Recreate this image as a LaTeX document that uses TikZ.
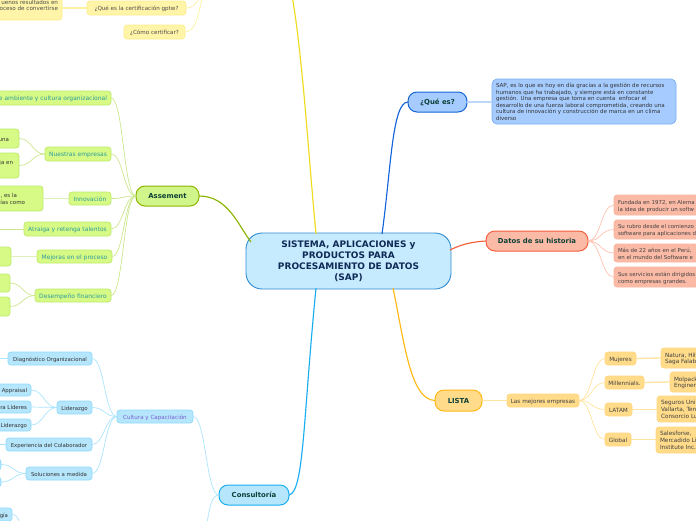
\documentclass[tikz,border=0pt]{standalone}
\usepackage{fontspec}
\setmainfont{DejaVu Sans}
\usetikzlibrary{calc}
\definecolor{grnF}{HTML}{D6FA85}\definecolor{grnB}{HTML}{BFE96B}\definecolor{grnL}{HTML}{CBE68C}\definecolor{grnT}{HTML}{2E9C9C}
\definecolor{yelF}{HTML}{FFF4A8}\definecolor{yelB}{HTML}{FBEE8C}\definecolor{yelL}{HTML}{FBF2A0}
\definecolor{orgF}{HTML}{FFDB8A}\definecolor{orgB}{HTML}{FFD77C}\definecolor{orgL}{HTML}{FFE39E}
\definecolor{redF}{HTML}{FBBAA5}\definecolor{redB}{HTML}{FBB49C}\definecolor{redL}{HTML}{FFC2AE}
\definecolor{cyaF}{HTML}{B5E6FC}\definecolor{cyaB}{HTML}{8FD9FA}\definecolor{cyaL}{HTML}{ACE4FD}
\definecolor{bluF}{HTML}{A6CCFF}\definecolor{bluB}{HTML}{78AEF2}\definecolor{bluL}{HTML}{BCD7FA}
\definecolor{drk}{HTML}{0E4038}
\definecolor{ctrF}{HTML}{C6EBFF}\definecolor{ctrB}{HTML}{2E8BCF}\definecolor{ctrT}{HTML}{0F2A55}
\definecolor{mGrn}{HTML}{8CB400}\definecolor{mBlu}{HTML}{1565D8}\definecolor{mRed}{HTML}{F5603C}
\definecolor{mOrg}{HTML}{FFB814}\definecolor{mCya}{HTML}{1AAEF0}\definecolor{mYel}{HTML}{F0DC1E}
\definecolor{asmF}{HTML}{D0F58A}\definecolor{purT}{HTML}{7A5FD0}
\tikzset{
 bxs/.style={draw,rounded corners=3pt,inner sep=0pt,outer sep=0pt,line width=.7pt,text=#1},
 grn/.style={bxs=grnT,fill=grnF,draw=grnB,font=\fontsize{6}{7}\selectfont},
 grnd/.style={bxs=black!80,fill=grnF,draw=grnB,font=\fontsize{5.5}{6.9}\selectfont},
 yel/.style={bxs=black!70,fill=yelF,draw=yelB,font=\fontsize{5.6}{6.6}\selectfont},
 org/.style={bxs=black!75,fill=orgF,draw=orgB,font=\fontsize{5.75}{6.7}\selectfont},
 red/.style={bxs=black!75,fill=redF,draw=redB,rounded corners=3pt,font=\fontsize{5.45}{6.9}\selectfont},
 cya/.style={bxs=black!80,fill=cyaF,draw=cyaB,font=\fontsize{5.4}{6.6}\selectfont},
 cyap/.style={cya,text=purT,font=\fontsize{5.6}{6.6}\selectfont},
 blu/.style={bxs=black!80,fill=bluF,draw=bluB,rounded corners=5pt,font=\fontsize{5.55}{6.5}\selectfont},
 mainb/.style={bxs=drk,line width=1pt,rounded corners=9pt,font=\bfseries\fontsize{6.9}{8}\selectfont},
 ctr/.style={bxs=ctrT,fill=ctrF,draw=ctrB,line width=.9pt,rounded corners=16pt,font=\bfseries\fontsize{9}{11}\selectfont},
 ln/.style={line width=.7pt,draw=#1},
 pl/.style={line width=1.3pt,draw=#1},
 mn/.style={line width=1.15pt,draw=#1},
}
\newcommand{\bx}[8]{%
 \pgfmathsetmacro\bxW{#5-(#3)}\pgfmathsetmacro\bxH{#6-(#4)}%
 \pgfmathsetmacro\bxX{(#3+#5)/2}\pgfmathsetmacro\bxY{(#4+#6)/2}%
 \node[#1,minimum width=\bxW pt,minimum height=\bxH pt] (#2) at (\bxX,\bxY)
  {\makebox[\dimexpr\bxW pt-8pt\relax][#7]{\raisebox{-1.2pt}[\height][\depth]{\begin{tabular}{@{}#7@{}}#8\end{tabular}}}};}
\newcommand{\cn}[3]{\draw[ln=#1] let \p1=(#2),\p2=(#3) in (#2) .. controls ({.5*\x1+.5*\x2},\y1) and ({.5*\x1+.5*\x2},\y2) .. (#3);}
\begin{document}
\begin{tikzpicture}[x=1pt,y=-1pt]
\useasboundingbox (0,0) rectangle (696,520);
\clip (0,0) rectangle (696,520);
% free ends
\coordinate (hubY) at (204,-10);
\coordinate (cY) at (316,234);
\coordinate (cQ) at (382,234);
\coordinate (cD) at (450,250);
\coordinate (cL) at (393,288);
\coordinate (cC) at (316,288);
\coordinate (cA) at (251,242);
\coordinate (topY) at (292,-5);
\coordinate (endC) at (207,523);
\coordinate (endG) at (20,523);
\coordinate (endD) at (-5,358.5);
\coordinate (endE) at (-5,444.5);
\coordinate (endA) at (-5,229);
% nodes
\bx{ctr}{center}{246}{233}{451}{289}{c}{SISTEMA, APLICACIONES y\\PRODUCTOS PARA\\PROCESAMIENTO DE DATOS\\(SAP)}
\bx{mainb,fill=bluF,draw=mBlu}{que}{408}{92}{467}{112}{c}{¿Qué es?}
\bx{blu}{queT}{492}{79}{676}{124}{l}{SAP, es lo que es hoy en día gracias a la gestión de recursos\\humanos que ha trabajado, y siempre está en constante\\gestión. Una empresa que toma en cuenta \ enfocar el\\desarrollo de una fuerza laboral comprometida, creando una\\cultura de innovación y construcción de marca en un clima\\diverso}
\bx{mainb,fill=redF,draw=mRed}{dat}{486}{231}{588}{251}{c}{Datos de su historia}
\bx{red}{h1}{614}{195}{720}{215}{l}{Fundada en 1972, en Alema\\la idea de producir un softw}
\bx{red}{h2}{614}{220}{720}{239}{l}{Su rubro desde el comienzo\\software para aplicaciones d}
\bx{red}{h3}{614}{244}{720}{262}{l}{Más de 22 años en el Perú, \\en el mundo del Software e}
\bx{red}{h4}{614}{267}{720}{287}{l}{Sus servicios están dirigidos\\como empresas grandes.}
\bx{mainb,fill=orgF,draw=mOrg}{lis}{435}{390}{482}{411}{c}{LISTA}
\bx{org}{mej}{507}{394}{579}{407}{c}{Las mejores empresas}
\bx{org}{muj}{605}{352}{636}{365}{c}{Mujeres}
\bx{org}{mil}{605}{376}{644}{389}{c}{Millennials.}
\bx{org}{lat}{605}{403}{632}{416}{c}{LATAM}
\bx{org}{glo}{605}{433}{631}{446}{c}{Global}
\bx{org}{r1}{661}{348}{740}{368}{l}{Natura, Hilt\\Saga Falabe}
\bx{org}{r2}{670}{372}{740}{392}{l}{Molpack\\Engineri}
\bx{org}{r3}{657}{396}{740}{422}{l}{Seguros Uni\\Vallarta, Ten\\Consorcio Lu}
\bx{org}{r4}{656}{427}{740}{453}{l}{Salesforse, \\Mercadido Li\\Institute Inc.}
\bx{mainb,fill=asmF,draw=mGrn}{asm}{136}{186}{199}{206}{c}{Assement}
\bx{grn}{g1}{-60}{91}{111}{105}{r}{e ambiente y cultura organizacional}
\bx{grn}{g2}{45}{147}{111}{161}{c}{Nuestras empresas}
\bx{grn}{g3}{69}{192}{111}{205}{c}{Innovación}
\bx{grn}{g4}{24}{222}{111}{236}{c}{Atraiga y retenga talentos}
\bx{grn}{g5}{37}{250}{112}{263}{c}{Mejoras en el proceso}
\bx{grn}{g6}{35}{289}{111}{302}{c}{Desempeño financiero}
\bx{grnd}{a1}{-40}{129}{19}{148}{r}{una\hspace*{6pt}\\ }
\bx{grnd}{a2}{-40}{153}{19}{178}{r}{ja en\hspace*{2pt}\\ \\ }
\bx{grnd}{a3}{-40}{186}{43}{211}{r}{, es la\hspace*{22pt}\\ías como\hspace*{14pt}\\ }
\bx{grnd}{a4}{-40}{247}{11}{266}{r}{ }
\bx{grnd}{a5}{-40}{274}{10}{292}{r}{ }
\bx{grnd}{a6}{-40}{297}{10}{316}{r}{ }
\bx{yel}{y0}{-60}{-10}{62}{20}{r}{uenos resultados en\\oceso de convertirse}
\bx{yel}{y1}{87}{1}{186}{15}{c}{¿Qué es la certificación gptw?}
\bx{yel}{y2}{124}{25}{185}{39}{c}{¿Cómo certificar?}
\bx{mainb,fill=cyaF,draw=mCya}{con}{219}{485}{289}{505}{c}{Consultoría}
\bx{cyap}{cul}{117}{410}{193}{423}{c}{Cultura y Capacitación}
\bx{cya}{dia}{8}{352}{92}{365}{c}{Diagnóstico Organizacional}
\bx{cya}{lid}{57}{401}{92}{414}{c}{Liderazgo}
\bx{cya}{exp}{6}{438}{92}{451}{c}{Experiencia del Colaborador}
\bx{cya}{sol}{26}{467}{92}{480}{c}{Soluciones a medida}
\bx{cya}{l1}{-40}{384}{31}{396}{r}{Appraisal}
\bx{cya}{l2}{-40}{401}{31}{413}{r}{ra Líderes}
\bx{cya}{l3}{-40}{419}{31}{431}{r}{Liderazgo}
\bx{cya}{s1}{-40}{459}{1}{470}{r}{ }
\bx{cya}{s2}{-40}{477}{1}{487}{r}{ }
\bx{cya}{gia}{-40}{508}{12}{521}{r}{gía}
% main connectors
\draw[mn=mGrn] (asm.east) .. controls (228,196) and (238,225) .. (cA);
\draw[mn=mBlu] (que.west) .. controls (392,102) and (391,170) .. (cQ);
\draw[mn=mRed] (dat.west) .. controls (470,242) and (460,245) .. (cD);
\draw[mn=mOrg] (lis.west) .. controls (410,400) and (404,340) .. (cL);
\draw[mn=mCya] (con.east) .. controls (304,492) and (303,420) .. (cC);
\draw[mn=mYel] (topY) .. controls (303,60) and (308,150) .. (cY);
% thin connectors
\foreach \c in {g1,g2,g3,g4,g5,g6}{\cn{grnL}{\c.east}{asm.west}}
\cn{grnL}{a1.east}{g2.west}\cn{grnL}{a2.east}{g2.west}
\cn{grnL}{a5.east}{g6.west}\cn{grnL}{a6.east}{g6.west}
\foreach \c in {h1,h2,h3,h4}{\cn{redL}{dat.east}{\c.west}}
\foreach \c in {muj,mil,lat,glo}{\cn{orgL}{mej.east}{\c.west}}
\foreach \c in {dia,lid,exp,sol}{\cn{cyaL}{\c.east}{cul.west}}
\foreach \c in {l1,l2,l3}{\cn{cyaL}{\c.east}{lid.west}}
\cn{cyaL}{s1.east}{sol.west}\cn{cyaL}{s2.east}{sol.west}
\cn{cyaL}{cul.east}{con.west}
\draw[ln=cyaL] (con.west) .. controls (212,495) and (210,505) .. (endC);
\draw[ln=cyaL] (gia.east) .. controls (16,514) and (18,518) .. (endG);
\draw[ln=yelL] (y1.east) .. controls (194,8) and (198,2) .. (hubY);
\draw[ln=yelL] (y2.east) .. controls (196,32) and (198,15) .. (hubY);
% straight pale connectors
\draw[pl=bluL] (que.east) -- (queT.west |- que.east);
\draw[pl=orgL] (lis.east) -- (mej.west);
\draw[pl=orgL] (muj.east) -- (r1.west);
\draw[pl=orgL] (mil.east) -- (r2.west);
\draw[pl=orgL] (lat.east) -- (r3.west |- lat.east);
\draw[pl=orgL] (glo.east) -- (r4.west |- glo.east);
\draw[pl=grnL!60!white] (g3.west) -- (a3.east |- g3.west);
\draw[pl=grnL!60!white] (g5.west) -- (a4.east |- g5.west);
\draw[ln=grnL] (g4.west) -- (endA);
\draw[pl=yelL] (y1.west) -- (y0.east |- y1.west);
\draw[pl=cyaL] (dia.west) -- (endD);
\draw[pl=cyaL] (exp.west) -- (endE);
\end{tikzpicture}
\end{document}
